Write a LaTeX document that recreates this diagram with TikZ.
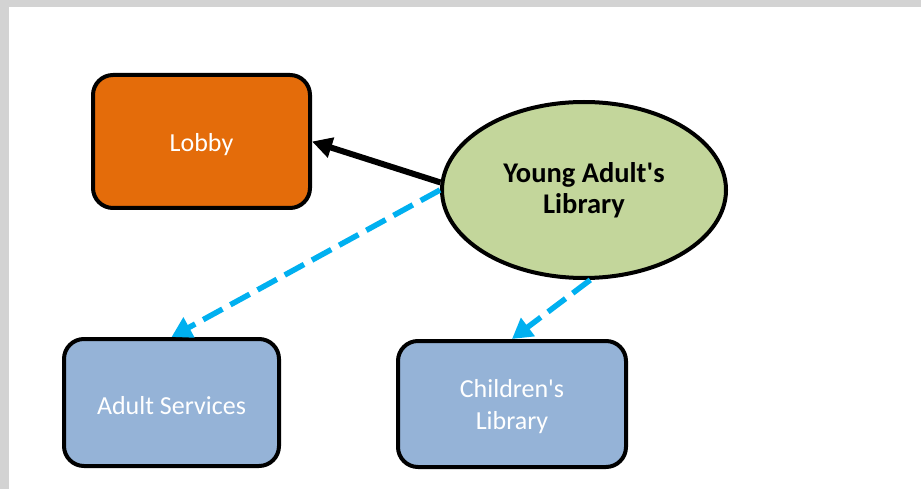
\documentclass[tikz,border=0pt]{standalone}
\usepackage{fontspec}
\setmainfont{Carlito}
\usetikzlibrary{arrows.meta,shapes.geometric}

\definecolor{lobbyorange}{HTML}{E46C0A}
\definecolor{yagreen}{HTML}{C3D69B}
\definecolor{deptblue}{HTML}{95B3D7}
\definecolor{linkblue}{HTML}{00B0F0}
\definecolor{pageedge}{HTML}{D3D3D3}

% straight apostrophe, set as a glyph so the TeX quote mapping leaves it alone
\newcommand{\apos}{\XeTeXglyph\the\XeTeXcharglyph"0027\relax}

\tikzset{
  room/.style={draw=black, line width=4pt, rounded corners=20pt,
    inner sep=0pt},
  roomtext/.style={text=white, align=center, yshift=-3pt,
    font=\fontsize{26}{32}\selectfont},
  hub/.style={ellipse, draw=black, line width=4pt, fill=yagreen,
    inner sep=0pt, align=center,
    font=\fontsize{28.5}{31}\selectfont\bfseries},
  mainlink/.style={line width=6pt, draw=black,
    -{Triangle[length=20pt,width=20pt]}},
  sidelink/.style={line width=5.5pt, draw=linkblue,
    dash pattern=on 22pt off 9pt,
    -{Triangle[length=20pt,width=22pt,fill=linkblue]}}
}

\begin{document}
\begin{tikzpicture}[x=1pt,y=-1pt]
  % page area and its grey edge
  \useasboundingbox (0,0) rectangle (921,489);
  \fill[white] (0,0) rectangle (921,489);
  \fill[pageedge] (0,0) rectangle (921,7);
  \fill[pageedge] (0,0) rectangle (9,489);

  % rooms
  \node[room, fill=lobbyorange, minimum width=217pt, minimum height=133pt,
    label={[roomtext]center:Lobby}]
    (lobby) at (201.5,141.5) {};
  \node[room, fill=deptblue, minimum width=215pt, minimum height=127pt,
    label={[roomtext]center:Adult Services}]
    (adult) at (171.5,402.5) {};
  \node[room, fill=deptblue, minimum width=228pt, minimum height=126pt,
    label={[roomtext]center:Children\apos s\\Library}]
    (children) at (512,404) {};
  \node[hub, minimum width=284pt, minimum height=176pt]
    (ya) at (584,190) {Young Adult\apos s\\Library};

  % connections
  \draw[mainlink] (ya.177) -- (lobby.east);
  \draw[sidelink] (ya.west) -- (adult.north);
  \draw[sidelink] (ya.-86) -- (children.north);
\end{tikzpicture}
\end{document}
